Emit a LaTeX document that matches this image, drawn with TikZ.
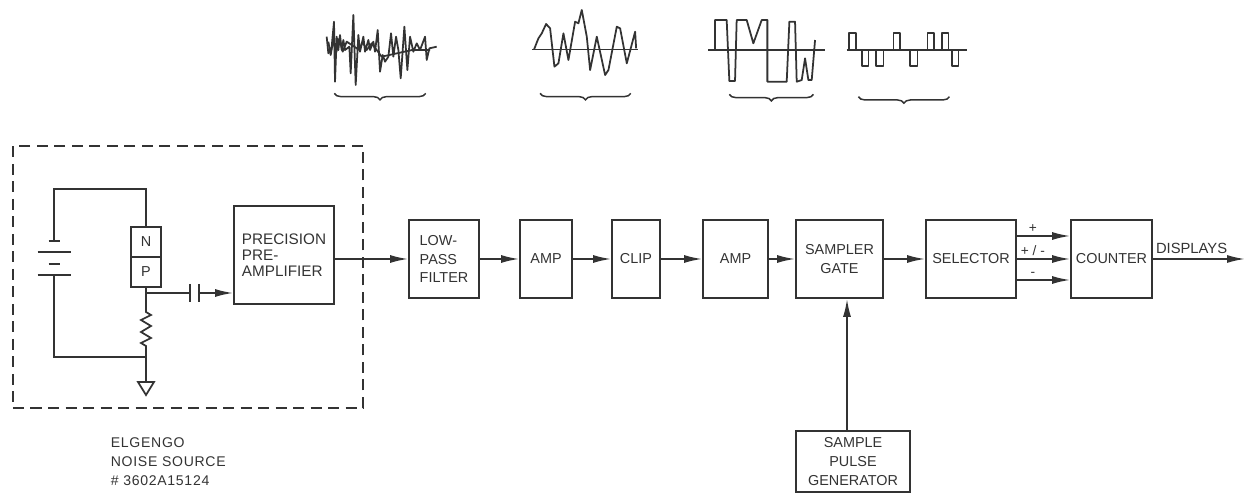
\documentclass[tikz,border=0pt]{standalone}
\usepackage{fontspec}
\setmainfont{Liberation Sans}
\usepackage{xcolor}
\usetikzlibrary{arrows.meta,positioning,calc,decorations.pathreplacing}
\definecolor{inkgray}{HTML}{333333}
\begin{document}
\begin{tikzpicture}[font=\fontsize{8.2}{10.6}\selectfont,inkgray,
  >={Latex[length=3.6mm,width=1.6mm]},line width=1pt,
  blk/.style={draw,inner sep=0pt,align=center,minimum height=15.6mm},
  lbl/.style={font=\fontsize{7.8}{9}\selectfont,inner sep=1.5pt},
  wave/.style={line width=1pt,line join=round},
  axisline/.style={line width=0.6pt},
  brc/.style={line width=0.85pt,decorate,decoration={brace,amplitude=1.3mm}}]
  \useasboundingbox (0,5.14) rectangle (24.94,-4.74);
  \node[draw,dashed,dash pattern=on 2.2mm off 1.3mm,minimum width=70mm,minimum height=52.4mm,inner sep=0pt] (nsbox) at (3.76,-0.4) {};
  \node[blk,minimum width=20mm,minimum height=19.6mm,align=left,font=\fontsize{8.7}{9.2}\selectfont] (preamp) at (5.68,0.04) {PRECISION\\PRE-\\AMPLIFIER};
  \node[blk,minimum width=14mm,align=left] (lowpass) at (8.88,-0.04) {LOW-\\PASS\\FILTER};
  \node[blk,minimum width=10.4mm] (ampa) at (10.92,-0.04) {AMP};
  \node[blk,minimum width=9.6mm] (clip) at (12.72,-0.04) {CLIP};
  \node[blk,minimum width=13mm] (ampb) at (14.71,-0.04) {AMP};
  \node[blk,minimum width=17.4mm] (gate) at (16.79,-0.04) {SAMPLER\\GATE};
  \node[blk,minimum width=18mm] (sel) at (19.42,-0.04) {SELECTOR};
  \node[blk,minimum width=16.2mm] (cnt) at (22.23,-0.04) {COUNTER};
  \node[blk,minimum width=22.8mm,minimum height=12.2mm] (spg) at (17.06,-4.09) {SAMPLE\\PULSE\\GENERATOR};
  \node[align=left,anchor=north west,inner sep=0pt,font=\fontsize{8}{10.7}\selectfont\addfontfeature{LetterSpace=5}] (srclabel) at (2.2,-3.6) {ELGENGO\\NOISE SOURCE\\\# 3602A15124};
  \coordinate (dispout) at (24.9,-0.04);
  \draw[->] (lowpass.west -| preamp.east) -- (lowpass.west);
  \draw[->] (lowpass) -- (ampa);
  \draw[->] (ampa) -- (clip);
  \draw[->] (clip) -- (ampb);
  \draw[->] (ampb) -- (gate);
  \draw[->] (gate) -- (sel);
  \draw[->] ($(sel.east)+(0,0.46)$) -- node[lbl,above,pos=0.3]{+} ($(cnt.west)+(0,0.46)$);
  \draw[->] (sel) -- node[lbl,above,pos=0.3]{+ / -} (cnt);
  \draw[->] ($(sel.east)+(0,-0.42)$) -- node[lbl,above,pos=0.3]{-} ($(cnt.west)+(0,-0.42)$);
  \draw[->] (cnt.east) -- node[lbl,above,pos=0.42,font=\fontsize{8.4}{9}\selectfont,yshift=1pt]{DISPLAYS} (dispout);
  \draw[->] ($(spg.north)+(-0.12,0)$) -- ($(gate.south)+(0.15,0)$);
  \node[draw,minimum size=6mm,inner sep=0pt] (nreg) at (2.92,0.3) {N};
  \node[draw,minimum size=6mm,inner sep=0pt] (preg) at (2.92,-0.3) {P};
  \coordinate (wiretr) at (2.92,1.36);
  \coordinate (wiretl) at (1.08,1.36);
  \coordinate (batta) at (1.08,0.32);
  \coordinate (battb) at (1.08,-0.36);
  \coordinate (wirebl) at (1.08,-2);
  \coordinate (wirebr) at (2.92,-2);
  \coordinate (tap) at (2.92,-0.72);
  \coordinate (capa) at (3.8,-0.72);
  \coordinate (capb) at (3.98,-0.72);
  \coordinate (resa) at (2.92,-1.1);
  \coordinate (resb) at (2.92,-1.8);
  \coordinate (gnd) at (2.92,-2.5);
  \draw (nreg.north) -- (wiretr) -- (wiretl) -- (batta);
  \draw (battb) -- (wirebl) -- (wirebr);
  \draw (preg.south) -- (resa) -- ++(0.1,-0.06) -- ++(-0.2,-0.1) -- ++(0.2,-0.12) -- ++(-0.2,-0.12) -- ++(0.2,-0.12) -- ++(-0.2,-0.1) -- ++(0.1,-0.06) -- (resb) -- (gnd);
  \draw (gnd) -- ++(-0.16,0) -- ++(0.16,-0.26) -- ++(0.16,0.26) -- cycle;
  \draw ($(batta)+(-0.11,0)$) -- ++(0.22,0);
  \draw ($(batta)+(-0.33,-0.22)$) -- ++(0.66,0);
  \draw ($(batta)+(-0.11,-0.46)$) -- ++(0.22,0);
  \draw ($(battb)+(-0.33,0)$) -- ++(0.66,0);
  \draw (tap) -- (capa);
  \draw ($(capa)+(0,0.18)$) -- ($(capa)+(0,-0.18)$);
  \draw ($(capb)+(0,0.18)$) -- ($(capb)+(0,-0.18)$);
  \draw[->] (capb) -- (capb -| preamp.west);
  \begin{scope}[shift={(6.2,5.14)},x=0.0667mm,y=-0.0667mm]
    \draw[wave] (50,110) -- (55,160) -- (65,140) -- (72,65) -- (75,245) -- (80,110) -- (85,150) -- (90,105) -- (95,150) -- (100,120) -- (105,150) -- (118,140) -- (122,220) -- (130,45) -- (137,255) -- (145,105) -- (150,155) -- (160,110) -- (165,155) -- (175,120) -- (180,150) -- (190,125) -- (195,155) -- (203,90) -- (210,215) -- (218,165) -- (225,185) -- (235,170) -- (243,100) -- (250,170) -- (258,110) -- (265,150) -- (272,235) -- (283,80) -- (292,210) -- (300,110) -- (310,155) -- (320,130) -- (330,150) -- (345,110) -- (350,180) -- (358,145) -- (380,140);
    \draw[wave] (55,125) -- (62,165) -- (70,120) -- (78,160) -- (88,115) -- (98,155) -- (110,125) -- (148,150) -- (158,125) -- (170,150) -- (185,130) -- (200,150) -- (215,170) -- (306,150) -- (325,150) -- (360,150);
    \draw[wave] (672,148) -- (685,115) -- (695,100) -- (708,72) -- (720,85) -- (733,200) -- (745,190) -- (760,100) -- (775,180) -- (795,65) -- (805,70) -- (815,30) -- (830,110) -- (840,210) -- (860,110) -- (885,225) -- (895,210) -- (920,80) -- (930,85) -- (950,190) -- (975,95) -- (978,145);
    \draw[axisline] (665,148) -- (985,148);
    \draw[brc] (347,280) -- (73,280);
    \draw[brc] (962,280) -- (690,280);
  \end{scope}
  \begin{scope}[shift={(13.8,5.14)},x=0.0667mm,y=-0.0667mm]
    \draw[axisline] (55,150) -- (405,150);
    \draw[axisline] (470,150) -- (830,150);
    \draw[wave] (75,150) -- (75,60) -- (110,60) -- (118,243) -- (135,243) -- (140,60) -- (170,60) -- (190,130) -- (215,60) -- (232,60) -- (232,245) -- (290,245) -- (298,65) -- (315,65) -- (320,245) -- (335,240) -- (345,175) -- (355,240) -- (365,240) -- (375,120);
    \draw[wave] (477,150) -- (477,98) -- (497,98) -- (497,150);
    \draw[wave] (515,150) -- (515,198) -- (535,198) -- (535,150);
    \draw[wave] (558,150) -- (558,198) -- (580,198) -- (580,150);
    \draw[wave] (610,150) -- (610,98) -- (630,98) -- (630,150);
    \draw[wave] (660,150) -- (660,198) -- (682,198) -- (682,150);
    \draw[wave] (712,150) -- (712,98) -- (732,98) -- (732,150);
    \draw[wave] (755,150) -- (755,98) -- (775,98) -- (775,150);
    \draw[wave] (785,150) -- (785,198) -- (805,198) -- (805,150);
    \draw[brc] (370,283) -- (118,283);
    \draw[brc] (778,290) -- (505,290);
  \end{scope}
\end{tikzpicture}
\end{document}
